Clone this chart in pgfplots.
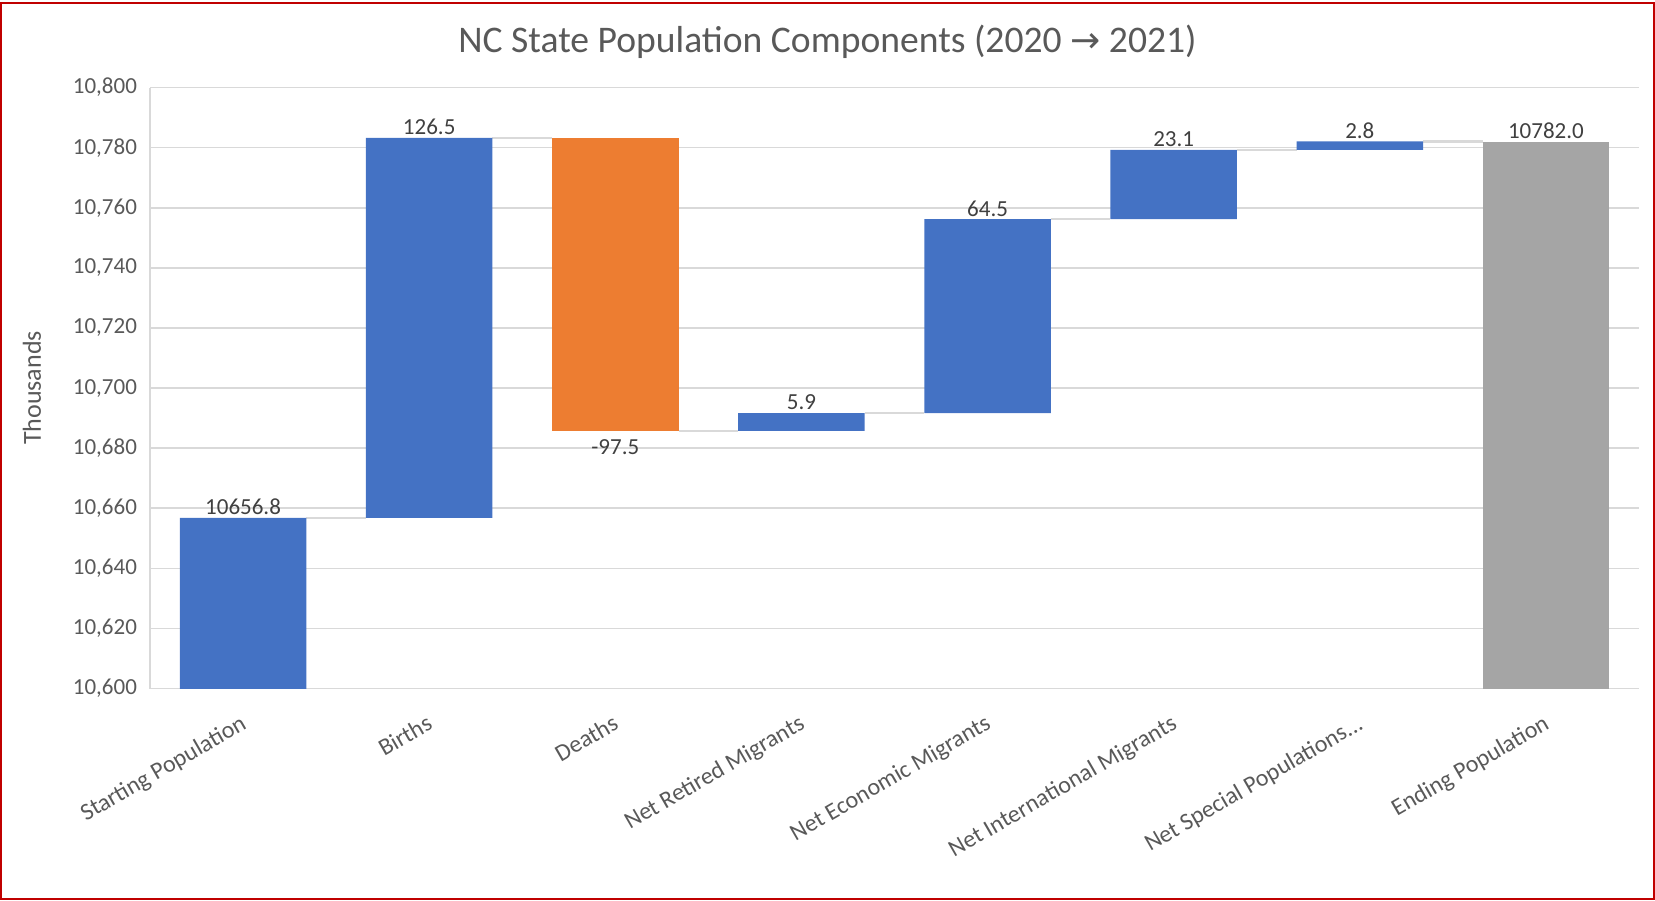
\documentclass[border=0pt]{standalone}
\usepackage{fontspec}
\setmainfont{Carlito}
\newfontfamily\symfont{DejaVu Sans}
\usepackage{pgfplots}
\pgfplotsset{compat=1.18}
\definecolor{xlblue}{HTML}{4472C4}
\definecolor{xlorange}{HTML}{ED7D31}
\definecolor{xlgray}{HTML}{A5A5A5}
\definecolor{xlgrid}{HTML}{D9D9D9}
\definecolor{xltext}{HTML}{595959}
\definecolor{xllabel}{HTML}{404040}
\definecolor{xlborder}{HTML}{C00000}

\pgfplotsset{
  wfgeom/.style={
    at={(75pt,105.5pt)}, anchor=south west,
    scale only axis,
    width=744.5pt, height=300.5pt,
    xmin=-0.5, xmax=7.5,
    ymin=10600, ymax=10800,
  }
}

\begin{document}
\begin{tikzpicture}
\useasboundingbox (0,0) rectangle (827.5pt,450pt);
\draw[xlborder, line width=0.8pt] (0.6pt,0.6pt) rectangle (826.9pt,448.5pt);

\node[font=\fontsize{18.8}{22}\selectfont, text=xltext] at (413.75pt,429pt)
  {NC State Population Components (2020 {\symfont\fontsize{18}{20}\selectfont →} 2021)};
\node[font=\fontsize{13}{15}\selectfont, text=xltext, rotate=90] at (16pt,256pt) {Thousands};

\begin{axis}[
    wfgeom,
    ybar stacked,
    bar width=0.68,
    ytick={10600,10620,...,10800},
    scaled y ticks=false,
    yticklabel={\pgfmathprintnumber[fixed, precision=0, 1000 sep={,}]{\tick}},
    xtick={0,...,7},
    xticklabels={Starting Population, Births, Deaths, Net Retired Migrants,
      Net Economic Migrants, Net International Migrants,
      {Net Special Populations.{}.{}.}, Ending Population},
    xticklabel style={rotate=30, anchor=north east, yshift=-6.4pt, xshift=-4.4pt,
      font=\fontsize{12}{14}\selectfont, text=xltext},
    yticklabel style={font=\fontsize{11.5}{14}\selectfont, text=xltext, xshift=-3pt},
    /pgf/number format/.cd, 1000 sep={,}, assume math mode=true, /pgfplots/.cd,
    axis x line*=bottom, axis y line*=left,
    axis line style={xlgrid, line width=0.8pt, -},
    major tick length=0pt,
    ymajorgrids, grid style={xlgrid, line width=0.8pt},
  ]

  % invisible base
  \addplot[fill=none, draw=none] coordinates {
    (0,0) (1,10656.8) (2,10685.8) (3,10685.8)
    (4,10691.7) (5,10756.2) (6,10779.3) (7,0)
  };
  % increases
  \addplot[fill=xlblue, draw=none] coordinates {
    (0,10656.8) (1,126.5) (2,0) (3,5.9)
    (4,64.5) (5,23.1) (6,2.8) (7,0)
  };
  % decreases
  \addplot[fill=xlorange, draw=none] coordinates {
    (0,0) (1,0) (2,97.5) (3,0) (4,0) (5,0) (6,0) (7,0)
  };
  % total
  \addplot[fill=xlgray, draw=none] coordinates {
    (0,0) (1,0) (2,0) (3,0) (4,0) (5,0) (6,0) (7,10782.0)
  };

  % connector lines
  \addplot[stack plots=false, sharp plot, draw=xlgrid, line width=1.2pt,
    unbounded coords=jump, mark=none] coordinates {
    (0.34,10656.8) (0.66,10656.8) (0.5,nan)
    (1.34,10783.3) (1.66,10783.3) (1.5,nan)
    (2.34,10685.8) (2.66,10685.8) (2.5,nan)
    (3.34,10691.7) (3.66,10691.7) (3.5,nan)
    (4.34,10756.2) (4.66,10756.2) (4.5,nan)
    (5.34,10779.3) (5.66,10779.3) (5.5,nan)
    (6.34,10782.1) (6.66,10782.1)
  };
\end{axis}

% data labels, same geometry, no stacking
\begin{axis}[wfgeom, hide axis, clip=false]
  \addplot[only marks, mark=none,
    point meta=explicit symbolic,
    nodes near coords,
    nodes near coords style={anchor=south, inner sep=1.5pt,
      font=\fontsize{11.5}{14}\selectfont, text=xllabel}] coordinates {
    (0,10656.8) [10656.8]
    (1,10783.3) [126.5]
    (3,10691.7) [5.9]
    (4,10756.2) [64.5]
    (5,10779.3) [23.1]
    (6,10782.1) [2.8]
    (7,10782.0) [10782.0]
  };
  \addplot[only marks, mark=none,
    point meta=explicit symbolic,
    nodes near coords,
    nodes near coords style={anchor=north, inner sep=4pt,
      font=\fontsize{11.5}{14}\selectfont, text=xllabel}] coordinates {
    (2,10685.8) [-97.5]
  };
\end{axis}
\end{tikzpicture}
\end{document}
